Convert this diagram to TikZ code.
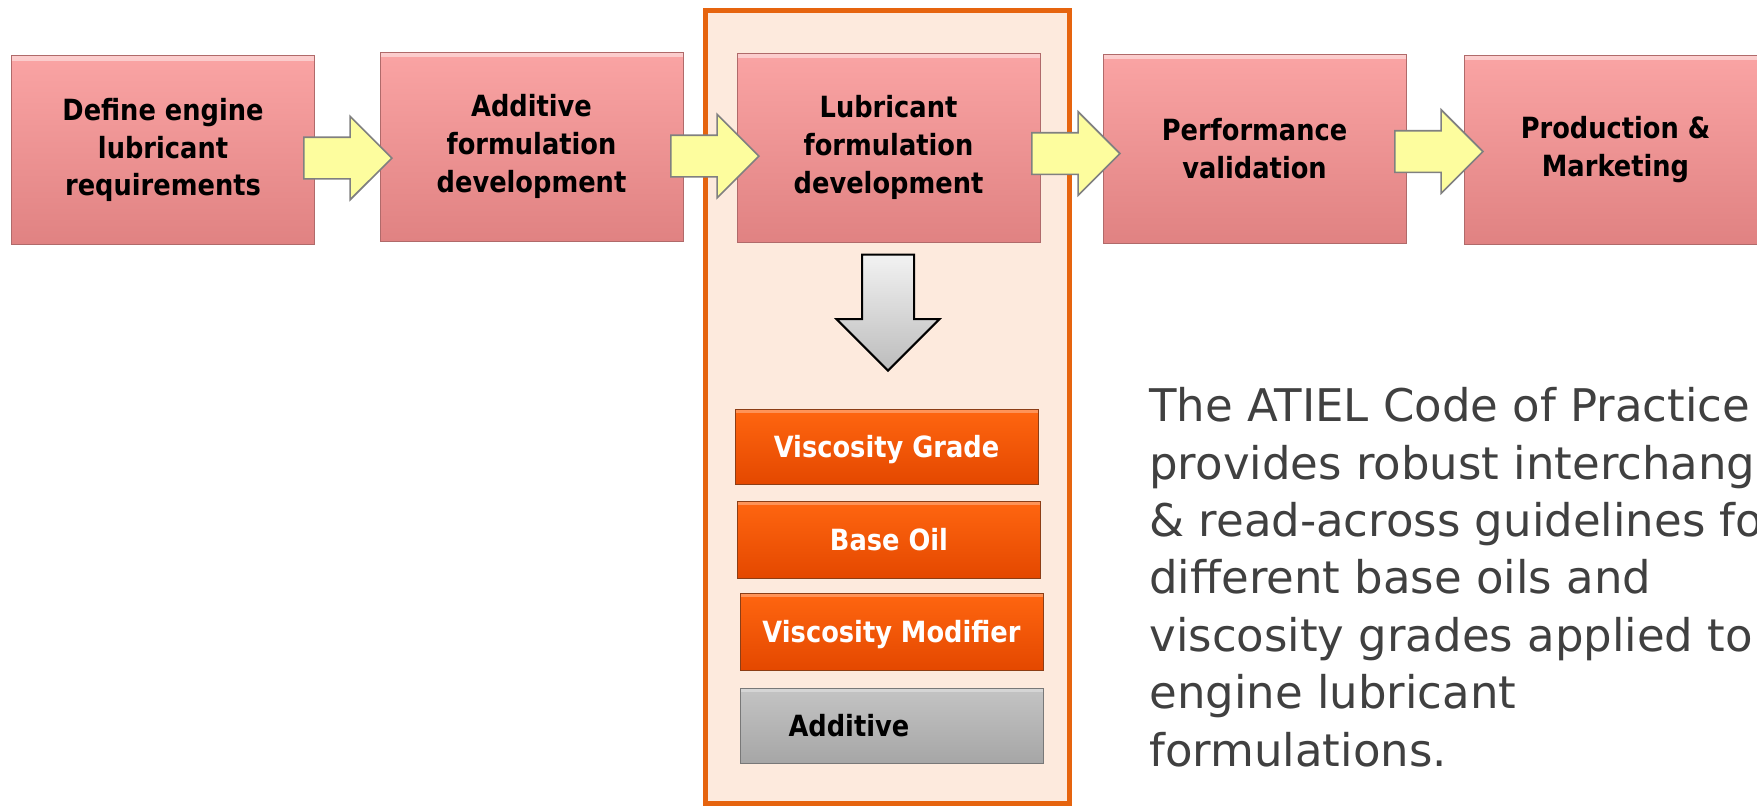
\documentclass[tikz,border=0pt]{standalone}
\usepackage{fontspec}
\setmainfont{DejaVu Sans}
\newfontfamily\boxfont{DejaVu Sans}[FakeStretch=0.88]
\usetikzlibrary{shapes.arrows}

\begin{document}
\begin{tikzpicture}[x=0.5pt,y=-0.5pt,
  stagebox/.style={rectangle,draw=pinkEdge,line width=0.5pt,top color=pinkTop,bottom color=pinkBot,
    minimum width=151.5pt,minimum height=94.5pt,inner sep=0pt,align=center,
    font=\boxfont\bfseries\fontsize{14.6}{18.9}\selectfont,
    path picture={\fill[white,opacity=0.45] (path picture bounding box.north west) rectangle ([yshift=-2.5pt]path picture bounding box.north east);}},
  partbox/.style={rectangle,draw=partEdge,line width=0.5pt,top color=partTop,bottom color=partBot,
    minimum width=151.5pt,minimum height=37.5pt,inner sep=0pt,text=white,text height=10.6pt,text depth=0pt,
    font=\boxfont\bfseries\fontsize{14.6}{17}\selectfont,
    path picture={\fill[white,opacity=0.3] (path picture bounding box.north west) rectangle ([yshift=-2pt]path picture bounding box.north east);}},
  flowarrow/.style={single arrow,draw=arrowEdge,line width=0.8pt,fill=arrowFill,inner xsep=0pt,inner ysep=10pt,
    minimum height=44pt,minimum width=41pt,single arrow head extend=10.5pt,single arrow tip angle=90,
    single arrow head indent=0pt},
  downarrow/.style={single arrow,shape border rotate=270,draw=black,line width=1pt,top color=downTop,bottom color=downBot,
    inner sep=12.5pt,minimum height=58pt,minimum width=50.5pt,single arrow head extend=12.75pt,
    single arrow tip angle=90,single arrow head indent=0pt},
  note/.style={align=left,inner sep=0pt,text=noteColor,font=\fontsize{22.5}{28.7}\selectfont}]
\definecolor{pinkTop}{RGB}{250,164,164}
\definecolor{pinkBot}{RGB}{224,130,130}
\definecolor{pinkEdge}{RGB}{176,106,106}
\definecolor{partTop}{RGB}{255,102,16}
\definecolor{partBot}{RGB}{228,72,0}
\definecolor{partEdge}{RGB}{140,62,22}
\definecolor{greyTop}{RGB}{196,196,196}
\definecolor{greyBot}{RGB}{166,166,166}
\definecolor{greyEdge}{RGB}{120,120,120}
\definecolor{arrowFill}{RGB}{253,253,158}
\definecolor{arrowEdge}{RGB}{128,128,128}
\definecolor{downTop}{RGB}{242,242,242}
\definecolor{downBot}{RGB}{188,188,188}
\definecolor{frameColor}{RGB}{230,100,14}
\definecolor{frameFill}{RGB}{253,234,221}
\definecolor{noteColor}{RGB}{64,64,64}
\path[use as bounding box,fill=white] (0,0) rectangle (1757,805);
\clip (0,0) rectangle (1757,805);

\path[draw=frameColor,line width=2.5pt,fill=frameFill] (705.5,10) rectangle (1069.5,803);

\node[stagebox] (define) at (163,150) {Define engine\\lubricant\\requirements};
\node[stagebox] (addform) at (531.5,146.5) {Additive\\formulation\\development};
\node[stagebox] (lubform) at (888.5,147.5) {Lubricant\\formulation\\development};
\node[stagebox] (validation) at (1254.5,148.5) {Performance\\validation};
\node[stagebox] (marketing) at (1615.5,149.5) {Production \&\\Marketing};

\node[flowarrow,anchor=tip] (step1) at (393,158) {};
\node[flowarrow,anchor=tip] (step2) at (760,156) {};
\node[flowarrow,anchor=tip] (step3) at (1121,153.5) {};
\node[flowarrow,anchor=tip] (step4) at (1484,151.5) {};

\node[downarrow,anchor=tip] (down) at (888,372) {};

\node[partbox] (grade) at (886.5,446.5) {Viscosity Grade};
\node[partbox,minimum height=38.5pt] (baseoil) at (889,539.5) {Base Oil};
\node[partbox,minimum height=38.5pt] (modifier) at (891.5,631.5) {Viscosity Modifier};
\node[partbox,top color=greyTop,bottom color=greyBot,draw=greyEdge,text=black,align=left,
  text width=103.5pt,inner xsep=24pt] (additive) at (892,725.5) {Additive};

\node[note,anchor=north west] (atiel) at (1149,387) {The ATIEL Code of Practice\\provides robust interchange\\\& read-across guidelines for\\different base oils and\\viscosity grades applied to\\engine lubricant\\formulations.};
\end{tikzpicture}
\end{document}
